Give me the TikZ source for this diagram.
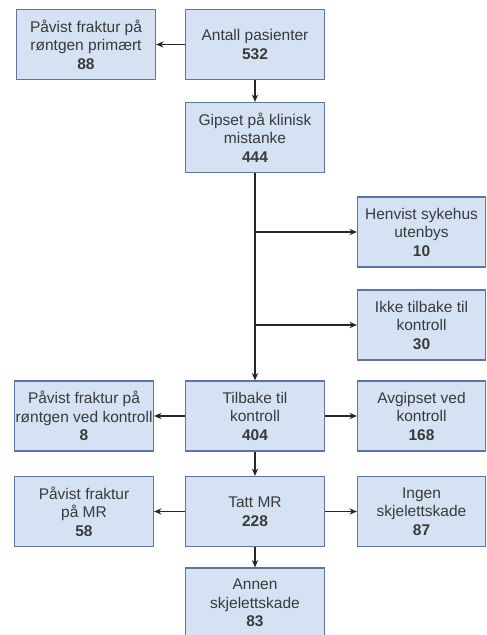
\documentclass[tikz,border=0pt]{standalone}
\usepackage{fontspec}
\setmainfont{Liberation Sans}
\usetikzlibrary{arrows.meta}

\definecolor{boxfill}{HTML}{D4E2F3}
\definecolor{boxline}{HTML}{5F74A6}
\definecolor{textgrey}{HTML}{3A3A3A}

\tikzset{
    flowbox/.style={draw=boxline, fill=boxfill, line width=1.2pt, align=center,
        text=textgrey, minimum width=139pt, minimum height=70pt, inner sep=1pt,
        font=\fontsize{15.5}{18.5}\selectfont},
    sidebox/.style={flowbox, minimum width=128pt},
    flow/.style={line width=1.6pt, draw=black!85, -{Stealth[length=2.6mm, width=2.2mm]}}
}

\begin{document}
\begin{tikzpicture}[x=1pt, y=-1pt]
        \useasboundingbox (0, 0) rectangle (487, 635);

        \node[flowbox] (prim) at (86, 44.5) {Påvist fraktur på\\røntgen primært\\\textbf{88}};
        \node[flowbox] (antall) at (255, 44.5) {Antall pasienter\\\textbf{532}};
        \node[flowbox] (gipset) at (255, 137.5) {Gipset på klinisk\\mistanke\\\textbf{444}};
        \node[sidebox] (henvist) at (421.5, 232) {Henvist sykehus\\utenbys\\\textbf{10}};
        \node[sidebox] (ikke) at (421.5, 325) {Ikke tilbake til\\kontroll\\\textbf{30}};
        \node[flowbox] (kontroll) at (84, 416) {Påvist fraktur på\\røntgen ved kontroll\\\textbf{8}};
        \node[flowbox] (tilbake) at (255, 416) {Tilbake til\\kontroll\\\textbf{404}};
        \node[sidebox] (avgipset) at (421.5, 416) {Avgipset ved\\kontroll\\\textbf{168}};
        \node[flowbox] (mr) at (84, 511.5) {Påvist fraktur\\på MR\\\textbf{58}};
        \node[flowbox] (tatt) at (255, 511.5) {Tatt MR\\\textbf{228}};
        \node[sidebox] (ingen) at (421.5, 511.5) {Ingen\\skjelettskade\\\textbf{87}};
        \node[flowbox] (annen) at (255, 603) {Annen\\skjelettskade\\\textbf{83}};

        \coordinate (b1) at (gipset.south |- henvist.west);
        \coordinate (b2) at (gipset.south |- ikke.west);

        \draw [flow] (antall) -- (prim);
        \draw [flow] (antall) -- (gipset);
        \draw [flow] (gipset) -- (tilbake);
        \draw [flow] (b1) -- (henvist);
        \draw [flow] (b2) -- (ikke);
        \draw [flow] (tilbake) -- (kontroll);
        \draw [flow] (tilbake) -- (avgipset);
        \draw [flow] (tilbake) -- (tatt);
        \draw [flow] (tatt) -- (mr);
        \draw [flow] (tatt) -- (ingen);
        \draw [flow] (tatt) -- (annen);
    \end{tikzpicture}
\end{document}
